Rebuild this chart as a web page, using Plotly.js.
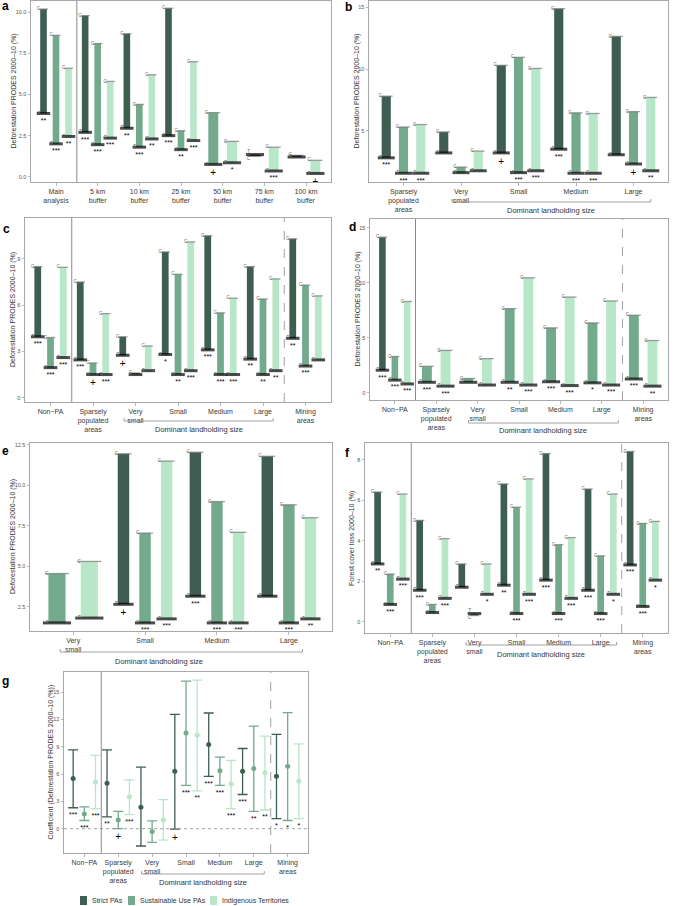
<!DOCTYPE html>
<html><head><meta charset="utf-8">
<script src="https://cdn.plot.ly/plotly-3.0.1.min.js"></script>
<style>html,body{margin:0;padding:0;background:#fff}#chart{width:675px;height:906px}</style>
</head><body><div id="chart"></div>
<script>
// ---------- series ----------
const seriesNames = ['Strict PAs', 'Sustainable Use PAs', 'Indigenous Territories'];
const seriesColors = ['#3f5e52', '#72aa8b', '#b8e6c8'];

// ---------- panel a ----------
const aGroups = ['Main<br>analysis', '5 km<br>buffer', '10 km<br>buffer', '25 km<br>buffer', '50 km<br>buffer', '75 km<br>buffer', '100 km<br>buffer'];
const aStrictC = [10.2, 9.8, 8.7, 10.25, null, 1.25, 1.3];
const aStrictT = [3.85, 2.7, 2.95, 2.5, null, 1.35, 1.2];
const aStrictSig = ['**', '***', '**', '***', '', '', ''];
const aSustC = [8.6, 8.1, 4.4, 2.8, 3.9, null, null];
const aSustT = [2.0, 1.95, 1.8, 1.65, 0.75, null, null];
const aSustSig = ['***', '***', '***', '**', '+', '', ''];
const aIndC = [6.6, 5.8, 6.2, 7.0, 2.15, 1.8, 1.0];
const aIndT = [2.45, 2.35, 2.3, 2.2, 0.85, 0.35, 0.2];
const aIndSig = ['**', '***', '**', '***', '*', '***', '+'];

// ---------- panel b ----------
const bGroups = ['Sparsely<br>populated<br>areas', 'Very<br>small', 'Small', 'Medium', 'Large'];
const bStrictC = [7.8, 4.9, 10.3, 14.9, 12.65];
const bStrictT = [2.8, 3.2, 3.2, 3.5, 3.05];
const bStrictSig = ['***', '', '+', '***', ''];
const bSustC = [5.3, 2.05, 10.95, 6.45, 6.55];
const bSustT = [1.55, 1.6, 1.6, 1.55, 2.3];
const bSustSig = ['***', '', '***', '***', '+'];
const bIndC = [5.5, 3.35, 10.05, 6.4, 7.7];
const bIndT = [1.55, 1.75, 1.75, 1.55, 1.75];
const bIndSig = ['***', '', '***', '***', '**'];

// ---------- panel c ----------
const cGroups = ['Non\u2212PA', 'Sparsely<br>populated<br>areas', 'Very<br>small', 'Small', 'Medium', 'Large', 'Mining<br>areas'];
const cStrictC = [8.5, 7.5, 3.95, 9.45, 10.5, 8.5, 10.3];
const cStrictT = [3.95, 2.45, 2.75, 2.8, 3.1, 2.5, 3.85];
const cStrictSig = ['***', '***', '+', '*', '***', '**', '**'];
const cSustC = [3.9, 2.25, 1.6, 8.0, 5.5, 6.4, 7.3];
const cSustT = [1.95, 1.5, 1.5, 1.5, 1.5, 1.5, 2.05];
const cSustSig = ['***', '+', '', '**', '***', '**', '***'];
const cIndC = [8.45, 5.45, 3.35, 10.1, 6.45, 7.7, 6.6];
const cIndT = [2.6, 1.5, 1.75, 1.75, 1.5, 1.75, 2.45];
const cIndSig = ['***', '***', '', '***', '***', '**', ''];

// ---------- panel d ----------
const dGroups = ['Non\u2212PA', 'Sparsely<br>populated<br>areas', 'Very<br>small', 'Small', 'Medium', 'Large', 'Mining<br>areas'];
const dStrictC = [14.15, null, null, null, null, null, null];
const dStrictT = [2.05, null, null, null, null, null, null];
const dStrictSig = ['***', '', '', '', '', '', ''];
const dSustC = [3.3, 2.4, 1.3, 7.65, 5.9, 6.35, 7.05];
const dSustT = [1.15, 0.95, 0.95, 0.95, 1.0, 0.9, 1.25];
const dSustSig = ['***', '***', '', '**', '***', '*', '***'];
const dIndC = [8.3, 3.85, 3.1, 10.45, 8.7, 8.35, 4.75];
const dIndT = [0.8, 0.6, 0.7, 0.7, 0.65, 0.7, 0.6];
const dIndSig = ['***', '***', '', '***', '***', '***', '**'];

// ---------- panel e ----------
const eGroups = ['Very<br>small', 'Small', 'Medium', 'Large'];
const eStrictC = [null, 11.95, 12.05, 11.8];
const eStrictT = [null, 2.65, 3.15, 3.15];
const eStrictSig = ['', '+', '***', ''];
const eSustC = [4.55, 7.05, 9.0, 8.8];
const eSustT = [1.5, 1.5, 1.5, 1.5];
const eSustSig = ['', '***', '***', '***'];
const eIndC = [5.3, 11.5, 7.1, 8.0];
const eIndT = [1.8, 1.75, 1.5, 1.75];
const eIndSig = ['', '***', '***', '**'];

// ---------- panel f ----------
const fGroups = ['Non\u2212PA', 'Sparsely<br>populated<br>areas', 'Very<br>small', 'Small', 'Medium', 'Large', 'Mining<br>areas'];
const fStrictC = [6.4, 5.0, 2.85, 6.8, 8.3, 6.55, 8.4];
const fStrictT = [2.85, 1.55, 1.7, 1.8, 2.05, 1.55, 2.8];
const fStrictSig = ['**', '***', '', '**', '***', '***', '***'];
const fSustC = [2.35, 0.85, 0.3, 5.65, 3.8, 3.25, 4.85];
const fSustT = [0.85, 0.45, 0.4, 0.4, 0.4, 0.4, 0.75];
const fSustSig = ['***', '', '', '***', '***', '***', '***'];
const fIndC = [6.3, 4.1, 2.85, 7.05, 4.15, 6.3, 4.95];
const fIndT = [2.1, 1.15, 1.35, 1.35, 1.15, 1.35, 2.05];
const fIndSig = ['***', '***', '*', '***', '***', '*', '*'];

// ---------- panel g ----------
const gGroups = ['Non\u2212PA', 'Sparsely<br>populated<br>areas', 'Very<br>small', 'Small', 'Medium', 'Large', 'Mining<br>areas'];
const gStrictEst = [5.5, 5.0, 2.35, 6.3, 9.25, 6.3, 5.75];
const gStrictLow = [2.3, 1.3, -1.9, -0.05, 5.75, 3.75, 1.1];
const gStrictHigh = [8.65, 8.65, 6.75, 12.55, 12.7, 8.8, 10.35];
const gStrictSig = ['***', '**', '', '+', '***', '***', '*'];
const gSustEst = [1.6, 0.95, -0.3, 10.5, 6.35, 6.6, 6.85];
const gSustLow = [0.9, 0.0, -1.5, 4.75, 4.75, 1.9, 0.9];
const gSustHigh = [2.4, 1.9, 0.85, 16.2, 7.85, 11.25, 12.75];
const gSustSig = ['***', '+', '', '***', '***', '**', '*'];
const gIndEst = [5.1, 3.5, 0.95, 10.25, 4.9, 6.15, 5.2];
const gIndLow = [2.2, 1.55, -1.25, 4.15, 2.2, 2.05, 1.1];
const gIndHigh = [8.05, 5.35, 3.2, 16.3, 7.5, 10.15, 9.3];
const gIndSig = ['***', '***', '', '**', '***', '**', '*'];

const yTitleDef = 'Deforestation PRODES 2000\u201310 (%)';
const yTitleF = 'Forest cover loss 2000\u201310 (%)';
const yTitleG = 'Coefficient (Deforestation PRODES 2000\u201310 (%))';
const bracketText = 'Dominant landholding size';

// ---------- layout helpers ----------
const W = 675, H = 906;
const FONT = '"Liberation Sans", Arial, sans-serif';
const fx = px => px / W;
const fy = py => 1 - py / H;

const panels = [
  {id: 1, letter: 'a', L: [0, 6], groups: aGroups, C: [aStrictC, aSustC, aIndC], T: [aStrictT, aSustT, aIndT], S: [aStrictSig, aSustSig, aIndSig],
   box: [31, 1, 331, 182], yr: [-0.32, 10.69], yt: [0, 2.5, 5, 7.5, 10], yf: '.1f', title: yTitleDef, tx: 13, solid: [1.5], dashed: [], bracket: null},
  {id: 2, letter: 'b', L: [343, 7], groups: bGroups, C: [bStrictC, bSustC, bIndC], T: [bStrictT, bSustT, bIndT], S: [bStrictSig, bSustSig, bIndSig],
   box: [369, 1, 668, 182], yr: [0.84, 15.52], yt: [5, 10, 15], yf: '', title: yTitleDef, tx: 356, solid: [], dashed: [],
   bracket: {x0: 1.84, x1: 5.3, y: 202, ty: 211, tx: 3.57}},
  {id: 3, letter: 'c', L: [1, 229], groups: cGroups, C: [cStrictC, cSustC, cIndC], T: [cStrictT, cSustT, cIndT], S: [cStrictSig, cSustSig, cIndSig],
   box: [25, 218, 331, 402], yr: [-0.28, 11.65], yt: [0, 3, 6, 9], yf: '', title: yTitleDef, tx: 13, solid: [1.5], dashed: [6.5],
   bracket: {x0: 2.73, x1: 6.24, y: 421, ty: 429, tx: 4.485}},
  {id: 4, letter: 'd', L: [347, 227], groups: dGroups, C: [dStrictC, dSustC, dIndC], T: [dStrictT, dSustT, dIndT], S: [dStrictSig, dSustSig, dIndSig],
   box: [370, 219, 668, 400], yr: [-0.66, 15.8], yt: [0, 5, 10, 15], yf: '', title: yTitleDef, tx: 357, solid: [1.5], dashed: [6.5],
   bracket: {x0: 2.78, x1: 6.4, y: 423, ty: 430, tx: 4.59}},
  {id: 5, letter: 'e', L: [0, 451], groups: eGroups, C: [eStrictC, eSustC, eIndC], T: [eStrictT, eSustT, eIndT], S: [eStrictSig, eSustSig, eIndSig],
   box: [30, 443, 332, 631], yr: [1.0, 12.62], yt: [2.5, 5, 7.5, 10, 12.5], yf: '.1f', title: yTitleDef, tx: 13, solid: [], dashed: [],
   bracket: {x0: 0.82, x1: 4.19, y: 652, ty: 661, tx: 2.2}},
  {id: 6, letter: 'f', L: [343, 453], groups: fGroups, C: [fStrictC, fSustC, fIndC], T: [fStrictT, fSustT, fIndT], S: [fStrictSig, fSustSig, fIndSig],
   box: [365, 443, 668, 633], yr: [-0.56, 8.82], yt: [0, 2, 4, 6, 8], yf: '', title: yTitleF, tx: 352, solid: [1.5], dashed: [6.5],
   bracket: {x0: 2.8, x1: 6.38, y: 645, ty: 654, tx: 4.59}},
  {id: 7, letter: 'g', L: [0, 681], groups: gGroups, est: [gStrictEst, gSustEst, gIndEst], low: [gStrictLow, gSustLow, gIndLow], high: [gStrictHigh, gSustHigh, gIndHigh], S: [gStrictSig, gSustSig, gIndSig],
   box: [64, 672, 308, 853], yr: [-2.67, 17.2], yt: [0, 3, 6, 9, 12, 15], yf: '', title: yTitleG, tx: 50, solid: [1.5], dashed: [6.5],
   bracket: {x0: 2.69, x1: 6.31, y: 874, ty: 882, tx: 4.5}}
];

const traces = [];
const shapes = [];
const annotations = [];
const layout = {
  width: W, height: H, margin: {l: 0, r: 0, t: 0, b: 0},
  paper_bgcolor: '#ffffff', plot_bgcolor: '#ffffff',
  showlegend: false, barmode: 'overlay', font: {family: FONT, color: '#333'},
  hovermode: false
};

const axisLine = {showline: true, mirror: true, linecolor: '#a8a8a8', linewidth: 1, showgrid: false, zeroline: false,
  ticks: 'outside', ticklen: 2.5, tickwidth: 0.8, tickcolor: '#a8a8a8', fixedrange: true};

// text below a point, pushed down by an invisible marker's radius
function sigTrace(xa, ya, xs, ys, ts, push) {
  return {type: 'scatter', mode: 'markers+text', x: xs, y: ys, text: ts, xaxis: xa, yaxis: ya, hoverinfo: 'skip',
    marker: {size: push, opacity: 0, color: '#000'},
    textposition: 'bottom center',
    textfont: {size: ts.map(t => t === '+' ? 10 : 7), color: '#000', family: FONT}};
}

panels.forEach(p => {
  const xa = p.id === 1 ? 'x' : 'x' + p.id;
  const ya = p.id === 1 ? 'y' : 'y' + p.id;
  const xk = p.id === 1 ? 'xaxis' : 'xaxis' + p.id;
  const yk = p.id === 1 ? 'yaxis' : 'yaxis' + p.id;
  const n = p.groups.length;
  const unitPx = (p.box[2] - p.box[0]) / (n + 0.2);

  layout[xk] = Object.assign({}, axisLine, {
    domain: [fx(p.box[0]), fx(p.box[2])], range: [0.4, n + 0.6], anchor: ya,
    tickmode: 'array', tickvals: p.groups.map((_, i) => i + 1), ticktext: p.groups,
    tickfont: {size: 7, color: '#3a3a3a', family: FONT}
  });
  layout[yk] = Object.assign({}, axisLine, {
    domain: [fy(p.box[3]), fy(p.box[1])], range: p.yr, anchor: xa,
    tickmode: 'array', tickvals: p.yt, tickformat: p.yf,
    tickfont: {size: 5.5, color: '#555', family: FONT}
  });

  annotations.push({xref: 'paper', yref: 'paper', x: fx(p.tx), y: fy((p.box[1] + p.box[3]) / 2),
    text: p.title, textangle: -90, showarrow: false, xanchor: 'center', yanchor: 'middle',
    font: {size: 7, color: '#333', family: FONT}});
  annotations.push({xref: 'paper', yref: 'paper', x: fx(p.L[0]), y: fy(p.L[1]), text: '<b>' + p.letter + '</b>',
    showarrow: false, xanchor: 'left', yanchor: 'middle', font: {size: 12, color: '#000', family: FONT}});

  p.solid.forEach(v => shapes.push({type: 'line', xref: xa, yref: ya + ' domain', x0: v, x1: v, y0: 0, y1: 1,
    line: {color: '#8a8a8a', width: 1}}));
  p.dashed.forEach(v => shapes.push({type: 'line', xref: xa, yref: ya + ' domain', x0: v, x1: v, y0: 0, y1: 1,
    line: {color: '#8a8a8a', width: 0.8, dash: 'dash'}}));

  if (p.bracket) {
    const b = p.bracket;
    shapes.push({type: 'path', xref: xa, yref: 'paper',
      path: `M${b.x0},${fy(b.y - 3)} L${b.x0},${fy(b.y)} L${b.x1},${fy(b.y)} L${b.x1},${fy(b.y - 3)}`,
      line: {color: '#8a8a8a', width: 0.8}});
    annotations.push({xref: xa, yref: 'paper', x: b.tx, y: fy(b.ty), text: bracketText, showarrow: false,
      xanchor: 'center', yanchor: 'middle', font: {size: 7.5, color: '#333', family: FONT}});
  }

  if (p.C) {
    const per = [0, 1, 2].map(() => ({x: [], base: [], h: [], w: []}));
    const tl = {x: [], y: [], s: []}, cl = {x: [], y: [], s: []};
    const cLab = {x: [], y: [], pos: []}, tLab = {x: [], y: [], pos: []};
    const sig = {x: [], y: [], t: []};
    for (let gi = 0; gi < n; gi++) {
      const present = [0, 1, 2].filter(s => p.C[s][gi] != null);
      const k = present.length;
      const slot = 0.9 / k;
      const bw = 0.53 * slot;
      present.forEach((s, j) => {
        const x = gi + 1 + (j - (k - 1) / 2) * slot;
        const c = p.C[s][gi], t = p.T[s][gi];
        const inverted = c < t;
        per[s].x.push(x); per[s].base.push(Math.min(c, t)); per[s].h.push(Math.abs(c - t)); per[s].w.push(bw);
        tl.x.push(x); tl.y.push(t); tl.s.push(bw * unitPx + 3);
        cl.x.push(x); cl.y.push(c); cl.s.push(bw * unitPx);
        cLab.x.push(x - bw / 2); cLab.y.push(c); cLab.pos.push(inverted ? 'bottom left' : 'middle left');
        tLab.x.push(x - bw / 2); tLab.y.push(t); tLab.pos.push(inverted ? 'top left' : 'middle left');
        const sg = p.S[s][gi];
        if (sg) { sig.x.push(x); sig.y.push(t); sig.t.push(sg); }
      });
    }
    per.forEach((d, s) => {
      if (!d.x.length) return;
      traces.push({type: 'bar', x: d.x, y: d.h, base: d.base, width: d.w, xaxis: xa, yaxis: ya,
        name: seriesNames[s], marker: {color: seriesColors[s], line: {width: 0}}, hoverinfo: 'skip'});
    });
    traces.push({type: 'scatter', mode: 'markers', x: cl.x, y: cl.y, xaxis: xa, yaxis: ya, hoverinfo: 'skip',
      marker: {symbol: 'line-ew', size: cl.s, line: {color: '#777', width: 1.3}}});
    traces.push({type: 'scatter', mode: 'markers', x: tl.x, y: tl.y, xaxis: xa, yaxis: ya, hoverinfo: 'skip',
      marker: {symbol: 'line-ew', size: tl.s, line: {color: '#000', width: 3}}});
    traces.push({type: 'scatter', mode: 'text', x: cLab.x, y: cLab.y, text: cLab.x.map(() => 'C'), xaxis: xa, yaxis: ya,
      textposition: cLab.pos, textfont: {size: 4.5, color: '#666', family: FONT}, hoverinfo: 'skip'});
    traces.push({type: 'scatter', mode: 'text', x: tLab.x, y: tLab.y, text: tLab.x.map(() => 'T'), xaxis: xa, yaxis: ya,
      textposition: tLab.pos, textfont: {size: 4.5, color: '#666', family: FONT}, hoverinfo: 'skip'});
    traces.push(sigTrace(xa, ya, sig.x, sig.y, sig.t, 5));
  } else {
    shapes.push({type: 'line', xref: xa + ' domain', yref: ya, x0: 0, x1: 1, y0: 0, y1: 0,
      line: {color: '#8a8a8a', width: 0.8, dash: 'dot'}});
    [0, 1, 2].forEach(s => {
      const xs = p.groups.map((_, i) => i + 1 + (s - 1) * 0.33);
      const est = p.est[s], lo = p.low[s], hi = p.high[s];
      traces.push({type: 'scatter', mode: 'markers', x: xs, y: est, xaxis: xa, yaxis: ya, name: seriesNames[s], hoverinfo: 'skip',
        marker: {color: seriesColors[s], size: 5},
        error_y: {type: 'data', symmetric: false, array: hi.map((h, i) => h - est[i]), arrayminus: est.map((e, i) => e - lo[i]),
          color: seriesColors[s], thickness: 1.3, width: 5}});
      const sx = [], sy = [], st = [];
      p.S[s].forEach((sg, i) => { if (sg) { sx.push(xs[i]); sy.push(lo[i]); st.push(sg); } });
      traces.push(sigTrace(xa, ya, sx, sy, st, 5));
    });
  }
});

// legend (drawn under panel g)
const legendX = [80, 128, 210];
seriesNames.forEach((nm, s) => {
  shapes.push({type: 'rect', xref: 'paper', yref: 'paper', x0: fx(legendX[s]), x1: fx(legendX[s] + 7), y0: fy(905), y1: fy(896),
    fillcolor: seriesColors[s], line: {width: 0}});
  annotations.push({xref: 'paper', yref: 'paper', x: fx(legendX[s] + 10), y: fy(900.5), text: nm, showarrow: false,
    xanchor: 'left', yanchor: 'middle', font: {size: 7, color: '#333', family: FONT}});
});

layout.shapes = shapes;
layout.annotations = annotations;
Plotly.newPlot('chart', traces, layout, {staticPlot: true, displayModeBar: false});
</script></body></html>
